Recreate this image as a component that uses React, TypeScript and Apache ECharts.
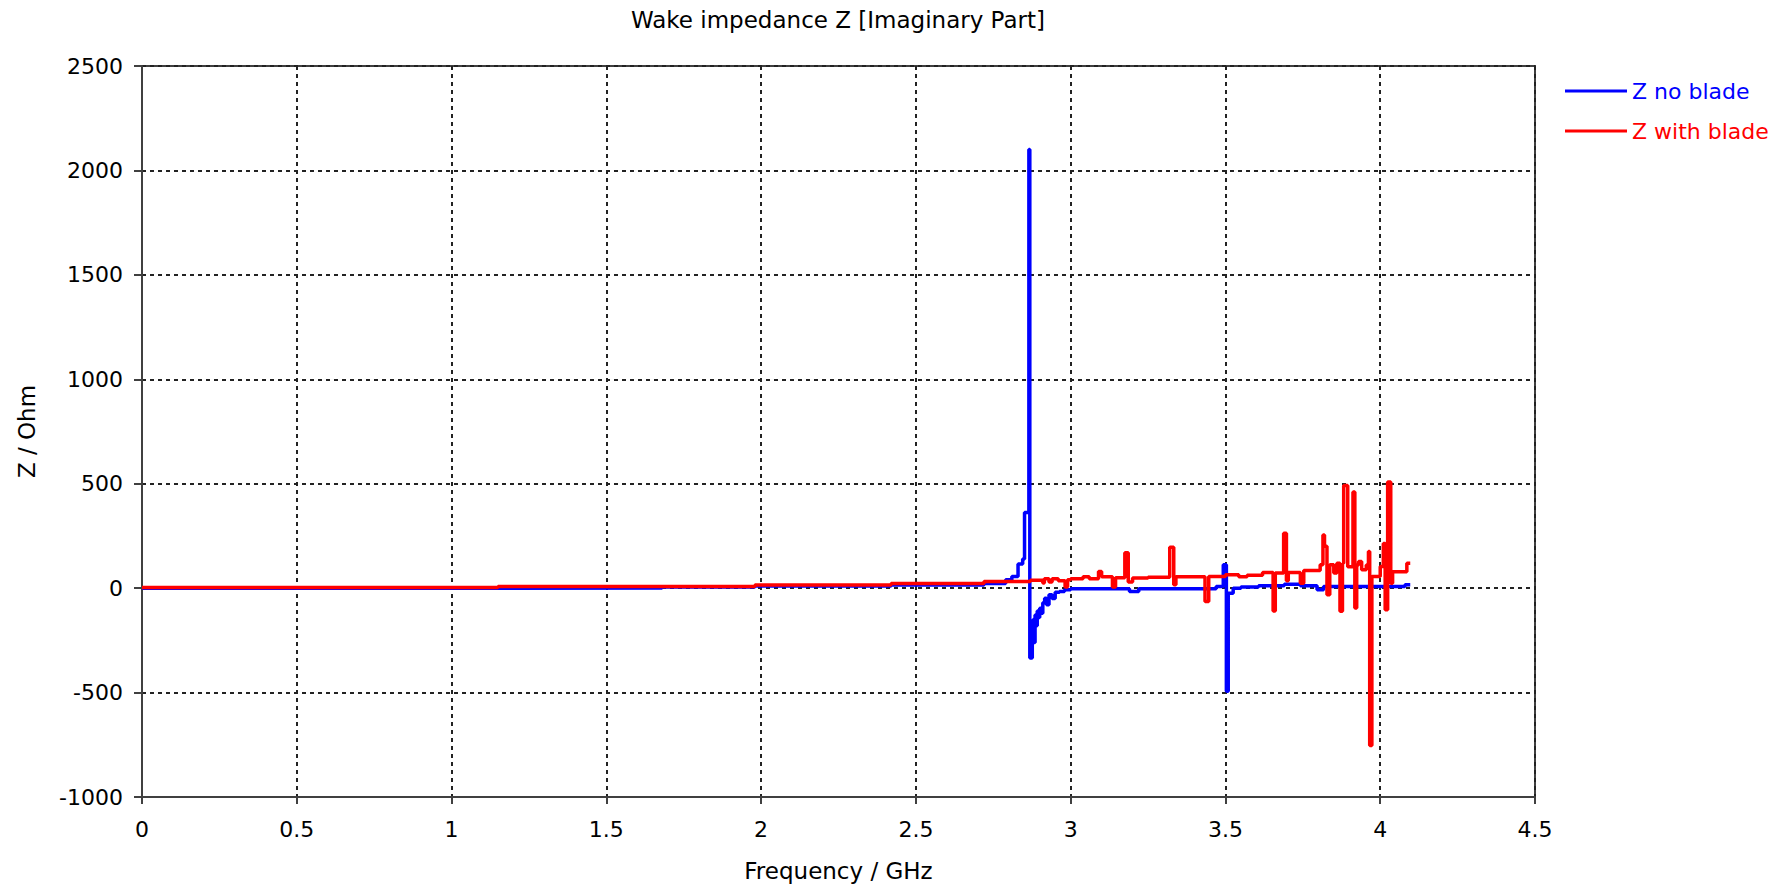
import React, { useEffect, useRef } from "react";
import * as echarts from "echarts";

const chartTitle = "Wake impedance Z [Imaginary Part]";
const xAxisName = "Frequency / GHz";
const yAxisName = "Z / Ohm";
const seriesNames = ["Z no blade", "Z with blade"];

// Z no blade: plateau start frequencies (GHz) and values (Ohm)
const noBladeFreq = [
  0, 1.18, 1.68, 1.98, 2.42, 2.72, 2.79, 2.81, 2.83, 2.845, 2.851, 2.865, 2.868,
  2.876, 2.879, 2.882, 2.885, 2.888, 2.892, 2.896, 2.9, 2.905, 2.91, 2.916,
  2.922, 2.93, 2.94, 2.95, 2.964, 2.98, 3.0, 3.19, 3.22, 3.47, 3.493, 3.503,
  3.509, 3.525, 3.55, 3.607, 3.69, 3.742, 3.796, 3.817, 4.08, 4.097,
];
const noBladeZ = [
  0, 1, 5, 10, 15, 22, 40, 56, 115, 140, 362, 2100, -334,
  -200, -150, -260, -128, -180, -110, -140, -96, -120, -70, -48,
  -80, -32, -50, -20, -16, -8, -3, -16, -3, 8, 112, -494,
  -24, 0, 5, 11, 19, 11, -8, 8, 16, 16,
];

// Z with blade: plateau start frequencies (GHz) and values (Ohm)
const withBladeFreq = [
  0, 1.15, 1.98, 2.42, 2.72, 2.87, 2.91, 2.915, 2.93, 2.94, 2.96, 2.982, 2.99,
  3.0, 3.04, 3.06, 3.09, 3.1, 3.135, 3.145, 3.175, 3.186, 3.2, 3.25, 3.32,
  3.333, 3.34, 3.434, 3.446, 3.5, 3.543, 3.57, 3.62, 3.654, 3.661, 3.688,
  3.697, 3.703, 3.742, 3.753, 3.806, 3.815, 3.82, 3.828, 3.837, 3.85, 3.86,
  3.87, 3.878, 3.882, 3.895, 3.912, 3.918, 3.924, 3.93, 3.94, 3.955, 3.962,
  3.966, 3.973, 4.0, 4.01, 4.016, 4.024, 4.034, 4.04, 4.086, 4.097,
];
const withBladeZ = [
  3, 8, 15, 22, 32, 38, 25, 45, 30, 45, 35, 5, 40,
  45, 55, 45, 80, 55, 5, 50, 170, 30, 48, 52, 196,
  16, 55, -64, 56, 64, 55, 62, 75, -110, 72, 263,
  35, 75, 24, 85, 112, 254, 200, -32, 112, 72, 119,
  -111, 119, 492, 103, 460, -95, 111, 128, 88, 111, 175,
  -754, 56, 104, 214, -103, 508, 24, 79, 119, 119,
];

const xTicks = { min: 0, max: 4.5, interval: 0.5 };
const yTicks = { min: -1000, max: 2500, interval: 500 };

const FONT = "DejaVu Sans";

export default function App() {
  const ref = useRef<HTMLDivElement>(null);
  useEffect(() => {
    document.body.style.margin = "0";
    if (!ref.current) return;
    const chart = echarts.init(ref.current, undefined, { renderer: "svg" });
    const axisColor = "#404040";
    const option: any = {
      animation: false,
      backgroundColor: "#ffffff",
      textStyle: { fontFamily: FONT },
      graphic: [
        {
          type: "text",
          x: 838,
          y: 20,
          style: {
            text: chartTitle,
            fontFamily: FONT,
            fontSize: 23,
            fill: "#000",
            align: "center",
            verticalAlign: "middle",
          },
        },
      ],
      grid: {
        left: 142,
        top: 66,
        width: 1393,
        height: 732,
        show: true,
        borderColor: axisColor,
        borderWidth: 2,
        containLabel: false,
      },
      legend: {
        orient: "vertical",
        left: 1560,
        top: 75,
        itemWidth: 62,
        itemHeight: 3,
        itemGap: 18,
        icon: "rect",
        textStyle: { fontFamily: FONT, fontSize: 22 },
        data: [
          { name: seriesNames[0], textStyle: { color: "#0000ff" } },
          { name: seriesNames[1], textStyle: { color: "#ff0000" } },
        ],
      },
      xAxis: {
        type: "value",
        min: xTicks.min,
        max: xTicks.max,
        interval: xTicks.interval,
        name: xAxisName,
        nameLocation: "middle",
        nameGap: 62,
        nameTextStyle: { fontFamily: FONT, fontSize: 23, color: "#000" },
        axisLine: { show: true, onZero: false, lineStyle: { color: axisColor, width: 2 } },
        axisTick: { show: true, inside: false, length: 7, lineStyle: { color: axisColor, width: 2 } },
        axisLabel: {
          margin: 21,
          fontFamily: FONT,
          fontSize: 22,
          color: "#000",
          formatter: (v: number) => String(v),
        },
        splitLine: { show: true, lineStyle: { color: "#222", width: 2, type: [4, 4] } },
      },
      yAxis: {
        type: "value",
        min: yTicks.min,
        max: yTicks.max,
        interval: yTicks.interval,
        name: yAxisName,
        nameLocation: "middle",
        nameRotate: 90,
        nameGap: 104,
        nameTextStyle: { fontFamily: FONT, fontSize: 23, color: "#000" },
        axisLine: { show: true, onZero: false, lineStyle: { color: axisColor, width: 2 } },
        axisTick: { show: true, inside: false, length: 8, lineStyle: { color: axisColor, width: 2 } },
        axisLabel: {
          margin: 19,
          fontFamily: FONT,
          fontSize: 22,
          color: "#000",
          formatter: (v: number) => String(v),
        },
        splitLine: { show: true, lineStyle: { color: "#222", width: 2, type: [4, 4] } },
      },
      series: [
        {
          name: seriesNames[0],
          type: "line",
          step: "end",
          symbol: "none",
          showSymbol: false,
          color: "#0000ff",
          lineStyle: { color: "#0000ff", width: 3.5 },
          data: noBladeFreq.map((f, i) => [f, noBladeZ[i]]),
        },
        {
          name: seriesNames[1],
          type: "line",
          step: "end",
          symbol: "none",
          showSymbol: false,
          color: "#ff0000",
          lineStyle: { color: "#ff0000", width: 3.5 },
          data: withBladeFreq.map((f, i) => [f, withBladeZ[i]]),
        },
      ],
    };
    chart.setOption(option);
    return () => chart.dispose();
  }, []);
  return <div ref={ref} style={{ width: 1772, height: 887 }} />;
}
